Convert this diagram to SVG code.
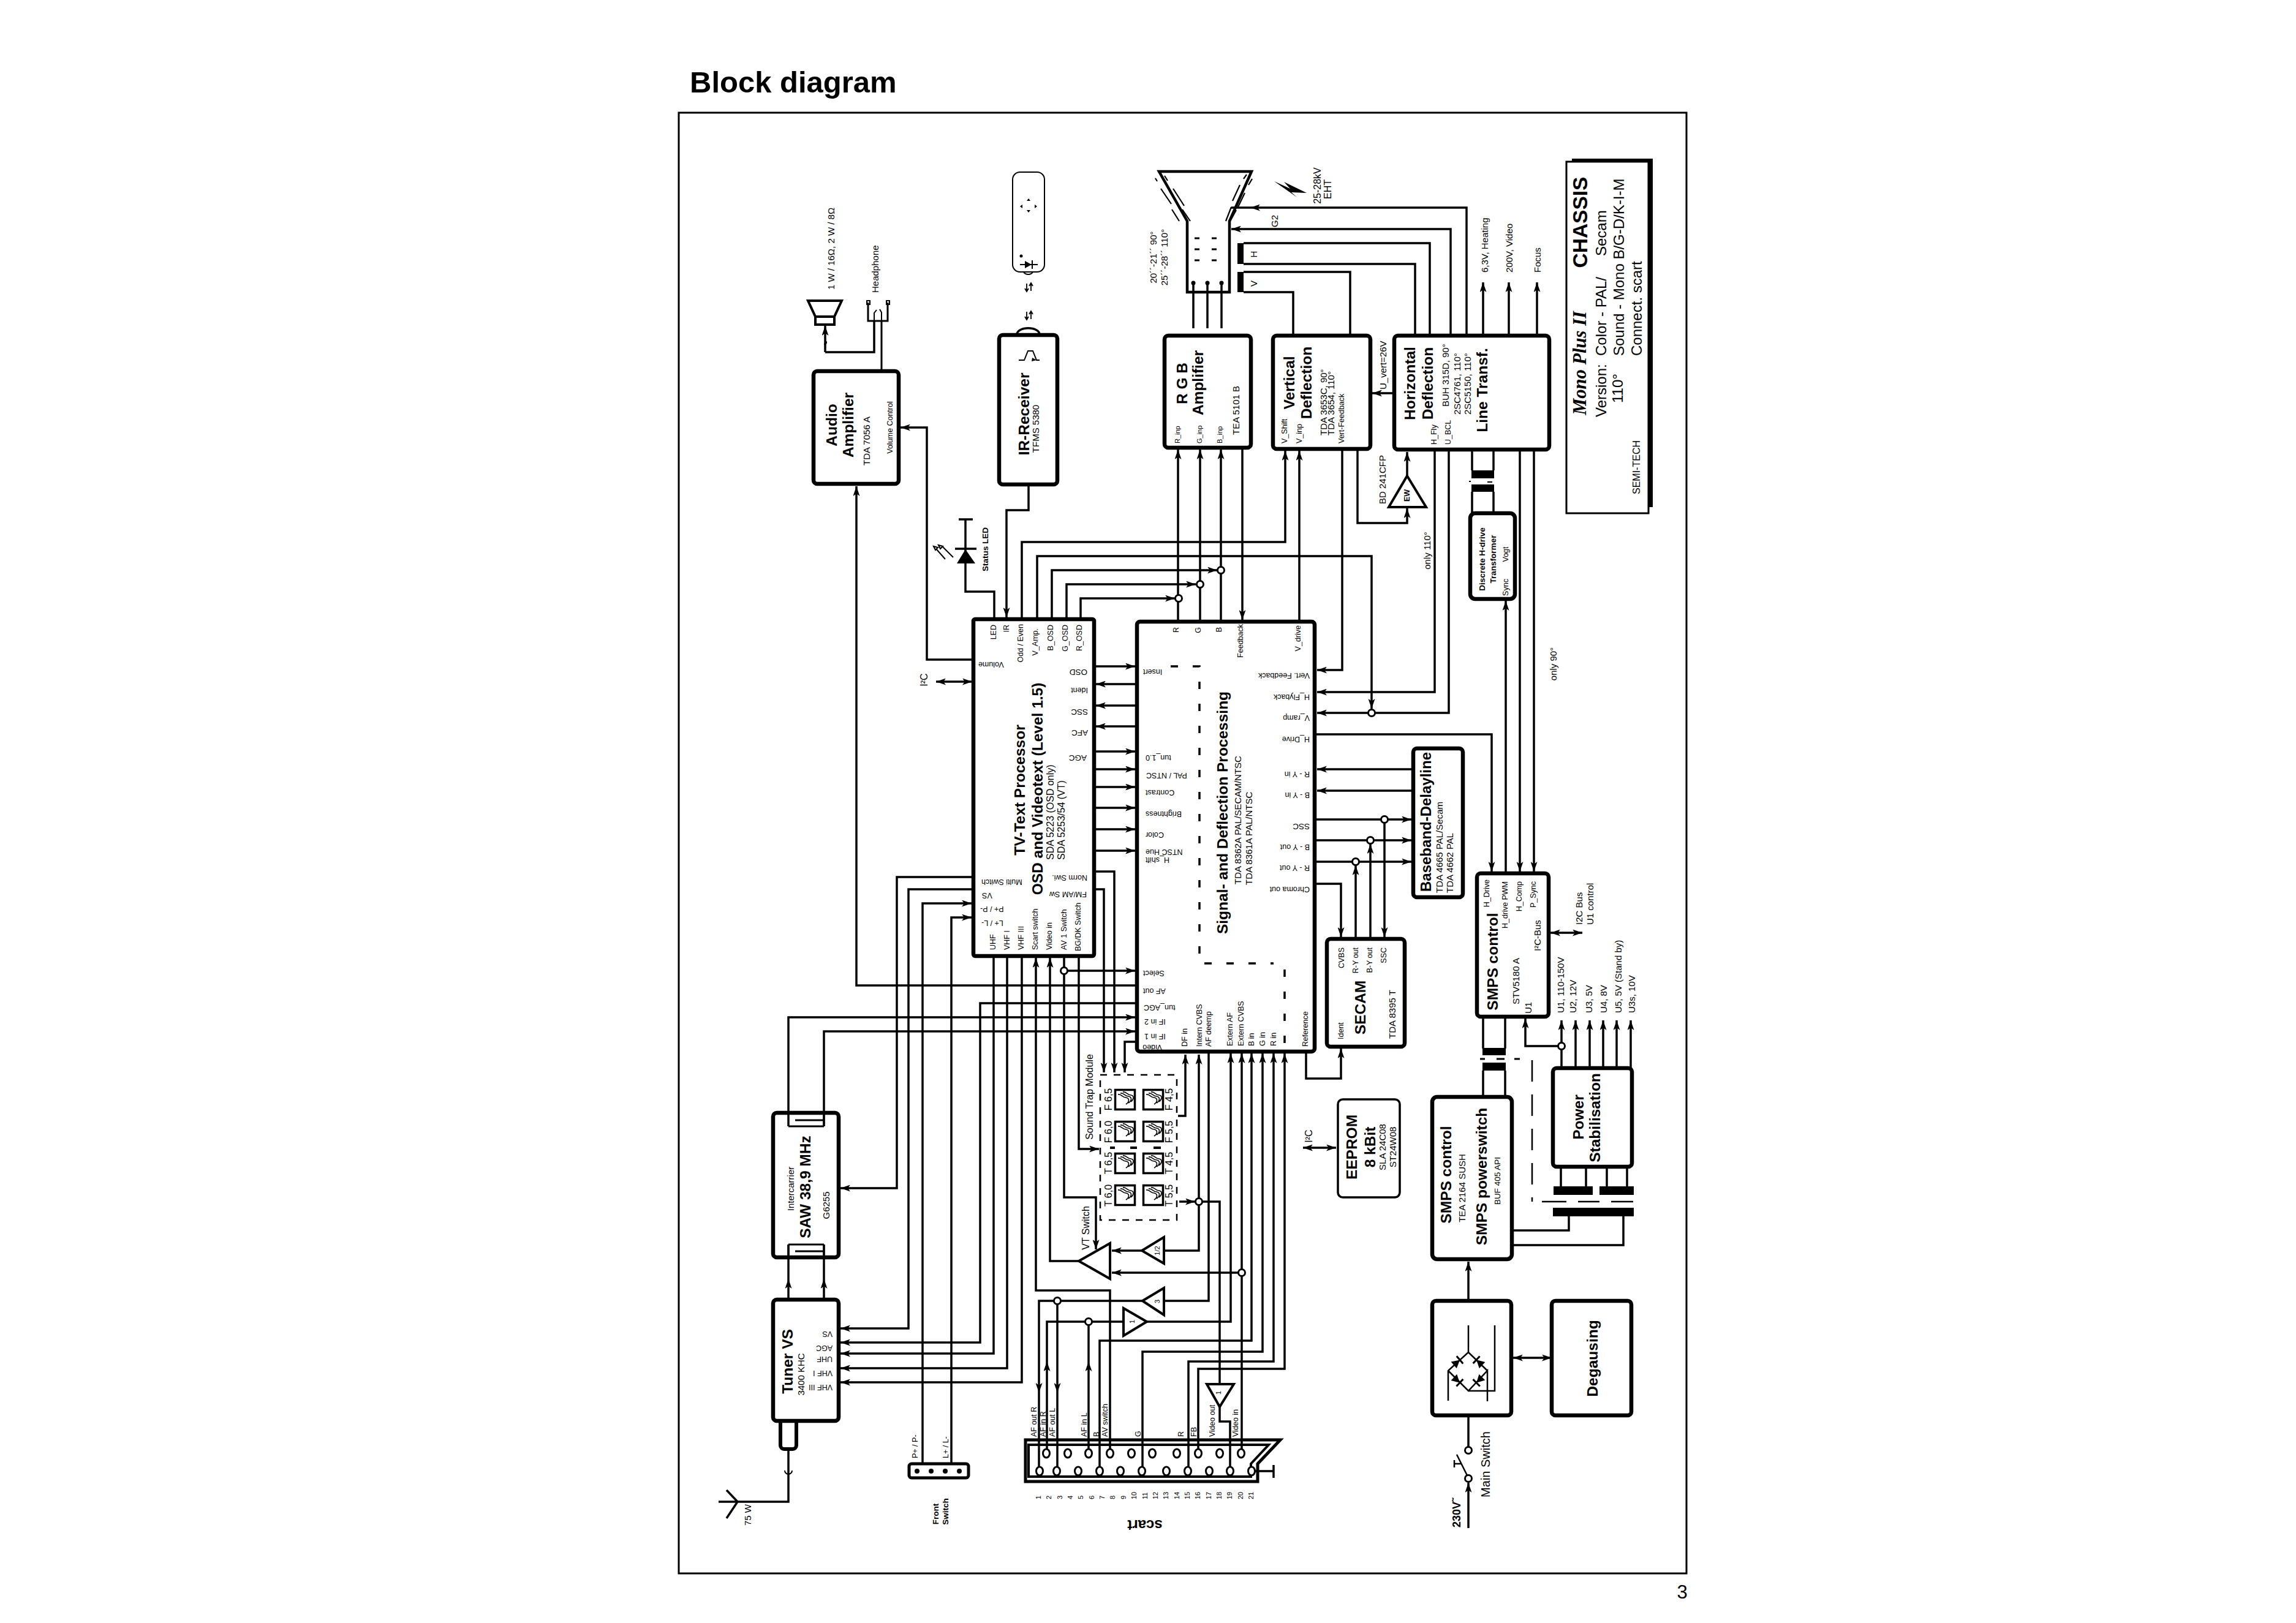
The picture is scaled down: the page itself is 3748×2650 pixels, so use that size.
<svg xmlns="http://www.w3.org/2000/svg" width="3748" height="2650" viewBox="0 0 3748 2650">
<style>
text{font-family:"Liberation Sans",Arial,sans-serif;fill:#000;dominant-baseline:central}
.b{font-weight:bold}.m{text-anchor:middle}.e{text-anchor:end}
.s11{font-size:11px}.s12{font-size:12.5px}.s13{font-size:13.5px}.s15{font-size:15px}.s16{font-size:16px}.s20{font-size:20px}.s24{font-size:24px}.s25{font-size:24.5px}
path,line,rect,circle,ellipse,polygon{stroke:#000;fill:none;stroke-linejoin:miter}
.w{stroke-width:3.5}
#wires path{stroke-width:3.5}
.ar{marker-end:url(#a)}
.bi{marker-start:url(#a);marker-end:url(#a)}
.box{stroke-width:6.5}
.k{fill:#000;stroke:none}
.j{fill:#fff;stroke-width:3}
.dash{stroke-width:3.5;stroke-dasharray:12 24}
</style>
<defs>
<marker id="a" markerUnits="userSpaceOnUse" markerWidth="16" markerHeight="11" refX="16" refY="5.5" orient="auto-start-reverse"><path d="M0,0 L16,5.5 L0,11 L4,5.5Z" style="fill:#000;stroke:none"/></marker>
<g id="flt"><rect x="1.5" y="1.5" width="32" height="32" stroke-width="3.5"/><path stroke-width="1.6" d="M6,9C12,8 13,14 19,14C25,15 25,21 19,25M10,7C16,6 17,12 23,12C29,13 29,19 23,23M14,5C20,4 21,10 27,10C33,11 32,17 27,21"/></g>
<g id="dio"><path class="k" d="M-9,-7 L4,0 L-9,7Z"/><path stroke-width="3" d="M4,-8V8"/></g>
</defs>

<rect width="3748" height="2650" style="fill:#fff;stroke:none"/>
<text class="b" x="1126" y="134" style="font-size:49px">Block diagram</text>
<text class="m" x="2746" y="2599" style="font-size:31px">3</text>
<rect x="1108" y="184" width="1645" height="2385" stroke-width="3"/>

<!-- signal routing -->
<g id="wires">
<path class="ar" d="M1856,1609H1398V794"/>
<path class="ar" d="M1589,1077H1513V698H1470"/>
<path class="bi" d="M1528,1113H1587"/>
<path d="M1576,920V966H1623V1011"/>
<path class="ar" d="M1679,791V833H1643V1008"/>
<path class="ar" d="M1668,1011V885H2098V736"/>
<path class="ar" d="M1693,1011V908H2239V1157"/>
<path class="ar" d="M1717,1011V931H1987"/>
<path class="ar" d="M1741,1011V954H1952"/>
<path class="ar" d="M1764,1011V977H1918"/>
<path class="ar" d="M1923,1015V734"/>
<path class="ar" d="M1959,1015V734"/>
<path class="ar" d="M1993,1015V734"/>
<path class="ar" d="M2028,731V1012"/>
<path class="ar" d="M2121,1015V736"/>
<path class="ar" d="M2191,733V1094H2150"/>
<path class="ar" d="M2342,734V1130H2150"/>
<path class="ar" d="M2365,734V1164H2150"/>
<path class="ar" d="M2216,733V854H2297V830"/>
<path class="ar" d="M2297,777V738"/>
<path class="ar" d="M2274,642H2240"/>
<path class="ar" d="M2394,548V339H2041"/>
<path d="M2041,339H2010"/>
<path class="ar" d="M2368,548V374H2010"/>
<path d="M2334,548V397H2030M2310,548V431H2030M2204,548V444H2030M2111,548V477H2030"/>
<path class="ar" d="M2421,548V461"/>
<path class="ar" d="M2463,548V461"/>
<path class="ar" d="M2509,548V461"/>
<path d="M1948,536V462M1971,536V462M1994,536V462"/>

<path class="ar" d="M1786,1088H1853"/>
<path class="ar" d="M1856,1117H1789"/>
<path class="ar" d="M1856,1152H1789"/>
<path class="ar" d="M1856,1186H1789"/>
<path class="ar" d="M1786,1227H1853"/>
<path class="ar" d="M1786,1256H1853"/>
<path class="ar" d="M1786,1285H1853"/>
<path class="ar" d="M1786,1319H1853"/>
<path class="ar" d="M1786,1354H1853"/>
<path class="ar" d="M1786,1389H1853"/>
<path class="ar" d="M1786,1423H1819V1751"/>
<path class="ar" d="M1786,1452H1802V1751"/>
<path class="ar" d="M1856,1701H1836V1751"/>
<path class="ar" d="M1737,1561V1955H1789V2040"/>
<path class="ar" d="M1737,1585H1853"/>
<path class="ar" d="M1761,1561V1876H1794"/>
<path class="ar" d="M1812,2373V2107H1691V1564"/>
<path class="ar" d="M1761,2059H1714V1564"/>
<path class="ar" d="M1622,1561V2210H1372"/>
<path class="ar" d="M1644,1561V2234H1372"/>
<path class="ar" d="M1668,1561V2257H1372"/>
<path class="ar" d="M1856,1638H1600V2192H1372"/>
<path class="ar" d="M1589,1432H1464V1940H1372"/>
<path class="ar" d="M1589,1452H1483V2169H1372"/>
<path class="ar" d="M1506,2390V1475H1586"/>
<path class="ar" d="M1553,2390V1498H1586"/>
<path class="ar" d="M1287,1839V1661H1853"/>
<path class="ar" d="M1345,1839V1684H1853"/>
<path class="ar" d="M1287,2122V2088"/>
<path d="M1287,2088V2032"/>
<path class="ar" d="M1345,2122V2088"/>
<path d="M1345,2088V2032"/>
<path d="M1204,2452H1287V2366"/>

<path class="ar" d="M2146,1199H2435V1423"/>
<path class="ar" d="M2306,1256H2150"/>
<path class="ar" d="M2306,1291H2150"/>
<path class="ar" d="M2146,1338H2304"/>
<path class="ar" d="M2146,1372H2304"/>
<path class="ar" d="M2146,1407H2304"/>
<path class="ar" d="M2146,1443H2189V1530"/>
<path class="ar" d="M2213,1533V1413"/>
<path class="ar" d="M2237,1533V1378"/>
<path class="ar" d="M2260,1338V1530"/>
<path class="ar" d="M2132,1717V1761H2189V1712"/>
<path class="ar" d="M1923,1822H1935V1722"/>
<path class="ar" d="M1925,1962H1951"/>
<path class="ar" d="M1957,1962V1722"/>
<path d="M1957,1962V2042H1900M1957,1962H1991V2260"/>
<path class="ar" d="M1864,2042H1815"/>
<path d="M1973,1717V2124H1900"/>
<path class="ar" d="M1865,2124H1696V2274"/>
<path d="M1696,2274V2402"/>
<path class="ar" d="M1726,2124V2274"/>
<path d="M1726,2274V2402"/>
<path class="ar" d="M1709,2373V2223"/>
<path d="M1709,2223V2158H1834"/>
<path class="ar" d="M1777,2373V2223"/>
<path d="M1777,2223V2158"/>
<path class="ar" d="M1872,2158H2009V1720"/>
<path class="ar" d="M2027,2373V1720"/>
<path class="ar" d="M2027,2078H1815"/>
<path class="ar" d="M1795,2402V2189H2043V1720"/>
<path class="ar" d="M1865,2402V2207H2061V1720"/>
<path class="ar" d="M1940,2402V2223H2079V1720"/>
<path class="ar" d="M1956,2373V2235H2097V1720"/>
<path d="M1991,2297V2321H2008V2402"/>

<path class="ar" d="M2397,2124V2060"/>
<path d="M2397,2311V2362"/>
<path class="ar" d="M2397,2495V2421"/>
<path class="bi" d="M2470,2217H2533"/>
<path d="M2468,2009H2561V1986M2468,2033H2650V1986"/>
<path d="M2548,1905V1940M2589,1905V1940M2623,1905V1940M2656,1905V1940"/>
<path class="ar" d="M2549,1744V1666"/>
<path class="ar" d="M2572,1744V1666"/>
<path class="ar" d="M2595,1744V1666"/>
<path class="ar" d="M2617,1744V1666"/>
<path class="ar" d="M2639,1744V1666"/>
<path class="ar" d="M2662,1744V1666"/>
<path class="ar" d="M2549,1708H2490V1663"/>
<path class="ar" d="M2481,734V1423"/>
<path class="ar" d="M2504,734V1423"/>
<path class="ar" d="M2458,1426V981"/>
<path class="bi" d="M2531,1523H2583"/>
<path class="bi" d="M2127,1874H2181"/>
<path d="M2421,1660V1712M2457,1660V1712M2421,1748V1791M2457,1748V1791"/>
<path d="M2403,734V768M2438,734V768M2403,803V838M2438,803V838"/>

<circle class="j" cx="1924" cy="977" r="5.5"/>
<circle class="j" cx="1959" cy="954" r="5.5"/>
<circle class="j" cx="1993" cy="931" r="5.5"/>
<circle class="j" cx="2239" cy="1164" r="5.5"/>
<circle class="j" cx="2213" cy="1407" r="5.5"/>
<circle class="j" cx="2237" cy="1372" r="5.5"/>
<circle class="j" cx="2260" cy="1338" r="5.5"/>
<circle class="j" cx="1737" cy="1585" r="5.5"/>
<circle class="j" cx="1957" cy="1962" r="5.5"/>
<circle class="j" cx="2027" cy="2078" r="5.5"/>
<circle class="j" cx="1726" cy="2124" r="5.5"/>
<circle class="j" cx="1777" cy="2158" r="5.5"/>
<circle class="j" cx="2549" cy="1708" r="5.5"/>
</g>

<g id="speaker" stroke-width="4">
<path d="M1319,491H1374L1362,517H1331Z"/><rect x="1331" y="517" width="31" height="13"/>
<path stroke-width="3.5" class="ar" d="M1347,575V532"/>
<path stroke-width="3.5" d="M1347,575H1427V524M1347,563a3,3 0 0 1 3,-4"/>
<text class="s15" transform="translate(1356,473) rotate(-90)">1 W / 16Ω, 2 W / 8Ω</text>
</g>
<g id="headphone">
<path stroke-width="3" d="M1417,494V524H1449V494"/>
<rect x="1415" y="491" width="5" height="6" stroke-width="2"/><rect x="1447" y="491" width="5" height="6" stroke-width="2"/>
<path stroke-width="2" d="M1427,524V511L1431,506M1439,524V510L1436,505"/>
<path stroke-width="3" d="M1439,524V606"/>
<text class="s15" transform="translate(1428,478) rotate(-90)">Headphone</text>
</g>
<g id="audio-amp">
<rect class="box" x="1328" y="606" width="139" height="184" rx="6"/>
<text class="b s25 m" transform="translate(1357,694) rotate(-90)">Audio</text>
<text class="b s25 m" transform="translate(1384,694) rotate(-90)">Amplifier</text>
<text class="s15 m" transform="translate(1414,720) rotate(-90)">TDA 7056 A</text>
<text class="s12 m" transform="translate(1453,698) rotate(-90)">Volume Control</text>
</g>

<g id="remote">
<rect x="1653" y="281" width="52" height="163" rx="12" stroke-width="2"/>
<path stroke-width="2" d="M1671,444a8,6 0 0 0 15,0"/>
<path class="k" d="M1679,324l3,4h-6zM1679,347l3,-4h-6zM1665,337l4,-3v6zM1693,337l-4,-3v6z"/>
<circle class="k" cx="1667" cy="418" r="2.5"/>
<path stroke-width="2" d="M1665,432H1694M1685,425V439"/><path class="k" d="M1673,426L1684,432L1673,438Z"/>
<path stroke-width="1.8" d="M1676,463V475M1683,463V475M1673,471l3,5l3,-5M1680,467l3,-5l3,5M1676,509V521M1683,509V521M1673,517l3,5l3,-5M1680,513l3,-5l3,5"/>
</g>
<g id="ir-receiver">
<rect class="box" x="1631" y="547" width="95" height="244" rx="6"/>
<path stroke-width="3.5" d="M1660,546a18,10 0 0 1 37,0"/>
<path stroke-width="2" d="M1663,588H1672L1678,573H1686L1692,588H1697"/>
<path class="k" d="M1692,588l-7,-4l-1,6z"/>
<text class="b s25 m" transform="translate(1671,676) rotate(-90)">IR-Receiver</text>
<text class="s15 m" transform="translate(1690,700) rotate(-90)">TFMS 5380</text>
</g>
<g id="status-led">
<path stroke-width="3.5" d="M1565,848H1588M1576,848V920M1559,896H1594"/>
<path class="k" d="M1576,897L1592,920H1562Z"/>
<path stroke-width="2" d="M1556,910L1537,891M1543,913L1528,896M1532,890l7,2l-4,4zM1524,892l7,2l-4,4z"/>
<text class="b s13 m" transform="translate(1608,897) rotate(-90)">Status LED</text>
</g>

<g id="crt">
<path stroke-width="4.5" d="M1938,361L1892,280H2043L2007,361V477H1938Z"/>
<path stroke-width="2.2" d="M1886,291L1889,296M1895,308L1912,333M1913,342L1925,361M1901,287L1906,295M1915,308L1933,336M1930,342L1943,361M2035,285L2030,292M2024,302L2012,328M2010,338L2001,361M2044,292L2038,302M2032,315L2021,338M2018,343L2007,363"/>
<path stroke-width="3" d="M1950,389H1958M1950,407H1958M1950,425H1958M1978,389H1986M1978,407H1986M1978,425H1986"/>
<circle class="k" cx="1948" cy="462" r="3.5"/><circle class="k" cx="1971" cy="462" r="3.5"/><circle class="k" cx="1994" cy="462" r="3.5"/>
<rect class="k" x="2020" y="397" width="10" height="34"/><rect class="k" x="2020" y="444" width="10" height="33"/>
<text class="s15 m" transform="translate(2046,415) rotate(-90)">H</text>
<text class="s15 m" transform="translate(2046,463) rotate(-90)">V</text>
<text class="s15 m" transform="translate(1882,420) rotate(-90)">20´´-21´´ 90°</text>
<text class="s15 m" transform="translate(1900,420) rotate(-90)">25´´-28´´ 110°</text>
<path class="k" d="M2080,296L2106,308L2096,297L2133,315L2108,314L2117,322Z"/>
<text class="s16 m" transform="translate(2150,303) rotate(-90)">25-28kV</text>
<text class="s16 m" transform="translate(2167,309) rotate(-90)">EHT</text>
<text class="s15 m" transform="translate(2080,361) rotate(-90)">G2</text>
</g>
<g id="rgb-amp">
<rect class="box" x="1901" y="548" width="141" height="183" rx="6"/>
<text class="b s25 m" transform="translate(1929,626) rotate(-90)">R G B</text>
<text class="b s25 m" transform="translate(1955,625) rotate(-90)">Amplifier</text>
<text class="s15 m" transform="translate(2017,670) rotate(-90)">TEA 5101 B</text>
<text class="s11" transform="translate(1922,724) rotate(-90)">R_inp</text>
<text class="s11" transform="translate(1958,724) rotate(-90)">G_inp</text>
<text class="s11" transform="translate(1991,724) rotate(-90)">B_inp</text>
</g>
<g id="vertical">
<rect class="box" x="2078" y="548" width="159" height="185" rx="6"/>
<text class="b s25 m" transform="translate(2104,625) rotate(-90)">Vertical</text>
<text class="b s25 m" transform="translate(2132,625) rotate(-90)">Deflection</text>
<text class="s15" transform="translate(2160,711) rotate(-90)">TDA 3653C, 90°</text>
<text class="s15" transform="translate(2172,711) rotate(-90)">TDA 3654, 110°</text>
<text class="s12" transform="translate(2190,724) rotate(-90)">Vert-Feedback</text>
<text class="s12" transform="translate(2097,724) rotate(-90)">V_Shift</text>
<text class="s12" transform="translate(2121,724) rotate(-90)">V_inp</text>
</g>
<g id="horizontal">
<rect class="box" x="2276" y="548" width="253" height="186" rx="6"/>
<text class="b s25 m" transform="translate(2301,626) rotate(-90)">Horizontal</text>
<text class="b s25 m" transform="translate(2330,626) rotate(-90)">Deflection</text>
<text class="s15" transform="translate(2359,664) rotate(-90)">BUH 315D, 90°</text>
<text class="s15" transform="translate(2378,677) rotate(-90)">2SC4761, 110°</text>
<text class="s15" transform="translate(2395,677) rotate(-90)">2SC5150, 110°</text>
<text class="b s25 m" transform="translate(2419,637) rotate(-90)">Line Transf.</text>
<text class="s12" transform="translate(2341,726) rotate(-90)">H_Fly</text>
<text class="s12" transform="translate(2364,726) rotate(-90)">U_BCL</text>
<text class="s15" transform="translate(2257,636) rotate(-90)">U_vert=26V</text>
<text class="s15" transform="translate(2423,445) rotate(-90)">6,3V, Heating</text>
<text class="s15" transform="translate(2463,445) rotate(-90)">200V, Video</text>
</g>
<g id="outputs">
<text class="s15" transform="translate(2509,445) rotate(-90)">Focus</text>
</g>
<g id="ew">
<path stroke-width="4" d="M2297,777L2328,828H2267Z"/>
<text class="b s12 m" transform="translate(2297,809) rotate(-90)">EW</text>
<text class="s15 m" transform="translate(2256,783) rotate(-90)">BD 241CFP</text>
<text class="s15 m" transform="translate(2329,899) rotate(-90)">only 110°</text>
</g>
<g id="discrete">
<rect class="k" x="2402" y="768" width="37" height="13"/><rect class="k" x="2402" y="791" width="37" height="12"/>
<path stroke-width="2" d="M2398,786H2401M2428,787H2436"/>
<rect class="box" x="2400" y="838" width="73" height="140" rx="8"/>
<text class="b s13 m" transform="translate(2419,913) rotate(-90)">Discrete H-drive</text>
<text class="b s13 m" transform="translate(2437,913) rotate(-90)">Transformer</text>
<text class="s12 m" transform="translate(2458,959) rotate(-90)">Sync</text>
<text class="s12 m" transform="translate(2458,905) rotate(-90)">Vogt</text>
<text class="s15 m" transform="translate(2535,1084) rotate(-90)">only 90°</text>
</g>
<g id="chassis">
<rect class="k" x="2566" y="259" width="132" height="6"/><rect class="k" x="2691" y="259" width="7" height="569"/>
<rect x="2557" y="264" width="134" height="574" stroke-width="3"/>
<text class="b m" style="font-size:33.5px" transform="translate(2579,363) rotate(-90)">CHASSIS</text>
<text class="b m" style="font-family:'Liberation Serif',serif;font-style:italic;font-size:30.5px" transform="translate(2579,593) rotate(-90)">Mono Plus II</text>
<text class="s24" transform="translate(2613,681) rotate(-90)">Version:</text>
<text class="s24" transform="translate(2613,581) rotate(-90)">Color - PAL/</text>
<text class="s24" transform="translate(2613,418) rotate(-90)">Secam</text>
<text class="s24" transform="translate(2640,658) rotate(-90)">110°</text>
<text class="s24" transform="translate(2642,581) rotate(-90)">Sound - Mono B/G-D/K-I-M</text>
<text class="s24" transform="translate(2671,581) rotate(-90)">Connect. scart</text>
<text class="s16" transform="translate(2671,807) rotate(-90)">SEMI-TECH</text>
</g>

<g id="tv-text">
<rect class="box" x="1589" y="1011" width="197" height="550" rx="3"/>
<text class="b s25 m" transform="translate(1664,1290) rotate(-90)">TV-Text Processor</text>
<text class="b s25 m" transform="translate(1693,1288) rotate(-90)">OSD and Videotext (Level 1.5)</text>
<text class="s16" transform="translate(1714,1404) rotate(-90)">SDA 5223 (OSD only)</text>
<text class="s16" transform="translate(1732,1404) rotate(-90)">SDA 5253/54 (VT)</text>
<text class="s12 e" transform="translate(1622,1020) rotate(-90)">LED</text>
<text class="s12 e" transform="translate(1643,1020) rotate(-90)">IR</text>
<text class="s12 e" transform="translate(1666,1019) rotate(-90)">Odd / Even</text>
<text class="s12 e" transform="translate(1690,1026) rotate(-90)">V_Amp.</text>
<text class="s12 e" transform="translate(1715,1020) rotate(-90)">B_OSD</text>
<text class="s12 e" transform="translate(1739,1020) rotate(-90)">G_OSD</text>
<text class="s12 e" transform="translate(1762,1020) rotate(-90)">R_OSD</text>
<text class="s12 e" transform="translate(1597,1085) rotate(180)">Volume</text>
<text class="s13" transform="translate(1775,1097) rotate(180)">OSD</text>
<text class="s12" transform="translate(1776,1127) rotate(180)">Ident</text>
<text class="s13" transform="translate(1776,1162) rotate(180)">SSC</text>
<text class="s13" transform="translate(1776,1196) rotate(180)">AFC</text>
<text class="s13" transform="translate(1774,1237) rotate(180)">AGC</text>
<text class="s12" transform="translate(1775,1433) rotate(180)">Norm Swi.</text>
<text class="s12" transform="translate(1774,1460) rotate(180)">FM/AM Sw</text>
<text class="s12 e" transform="translate(1602,1440) rotate(180)">Multi Switch</text>
<text class="s12 e" transform="translate(1603,1462) rotate(180)">VS</text>
<text class="s12 e" transform="translate(1600,1484) rotate(180)">P+ / P-</text>
<text class="s12 e" transform="translate(1602,1507) rotate(180)">L+ / L-</text>
<text class="s12" transform="translate(1621,1551) rotate(-90)">UHF</text>
<text class="s12" transform="translate(1644,1551) rotate(-90)">VHF I</text>
<text class="s12" transform="translate(1667,1551) rotate(-90)">VHF III</text>
<text class="s12" transform="translate(1690,1551) rotate(-90)">Scart switch</text>
<text class="s12" transform="translate(1713,1551) rotate(-90)">Video in</text>
<text class="s12" transform="translate(1737,1551) rotate(-90)">AV 1 Switch</text>
<text class="s12" transform="translate(1760,1553) rotate(-90)">BG/DK Switch</text>
<text class="s16 m" transform="translate(1508,1110) rotate(-90)">I²C</text>
</g>

<g id="signal">
<text class="s12" transform="translate(1897,1710) rotate(180)">Video</text>
<rect class="box" x="1856" y="1015" width="290" height="702" rx="5"/>
<path class="dash" d="M1911,1088H1958V1573H2079"/>
<path class="dash" d="M2097,1583V1705"/>
<text class="b s25 m" transform="translate(1995,1327) rotate(-90)">Signal- and Deflection Processing</text>
<text class="s15 m" transform="translate(2020,1339) rotate(-90)">TDA 8362A PAL/SECAM/NTSC</text>
<text class="s15" transform="translate(2038,1445) rotate(-90)">TDA 8361A PAL/NTSC</text>
<text class="s12 e" transform="translate(1920,1024) rotate(-90)">R</text>
<text class="s12 e" transform="translate(1956,1024) rotate(-90)">G</text>
<text class="s12 e" transform="translate(1990,1024) rotate(-90)">B</text>
<text class="s12 e" transform="translate(2025,1019) rotate(-90)">Feedback</text>
<text class="s12 e" transform="translate(2119,1021) rotate(-90)">V_drive</text>
<text class="s12" transform="translate(2138,1103) rotate(180)">Vert. Feedback</text>
<text class="s12" transform="translate(2138,1138) rotate(180)">H_Flyback</text>
<text class="s12" transform="translate(2138,1172) rotate(180)">V_ramp</text>
<text class="s12" transform="translate(2138,1207) rotate(180)">H_Drive</text>
<text class="s12" transform="translate(2138,1264) rotate(180)">R - Y in</text>
<text class="s12" transform="translate(2138,1298) rotate(180)">B - Y in</text>
<text class="s13" transform="translate(2138,1349) rotate(180)">SSC</text>
<text class="s12" transform="translate(2138,1383) rotate(180)">B - Y out</text>
<text class="s12" transform="translate(2138,1417) rotate(180)">R - Y out</text>
<text class="s12" transform="translate(2138,1452) rotate(180)">Chroma out</text>
<text class="s12 e" transform="translate(1866,1097) rotate(180)">Insert</text>
<text class="s12 e" transform="translate(1870,1237) rotate(180)">tun_1.0</text>
<text class="s12 e" transform="translate(1871,1266) rotate(180)">PAL / NTSC</text>
<text class="s12 e" transform="translate(1870,1294) rotate(180)">Contrast</text>
<text class="s12 e" transform="translate(1870,1329) rotate(180)">Brightness</text>
<text class="s12 e" transform="translate(1870,1363) rotate(180)">Color</text>
<text class="s12 e" transform="translate(1870,1391) rotate(180)">NTSC Hue</text>
<text class="s12 e" transform="translate(1870,1404) rotate(180)">H_shift</text>
<text class="s12 e" transform="translate(1866,1589) rotate(180)">Select</text>
<text class="s12 e" transform="translate(1866,1618) rotate(180)">AF out</text>
<text class="s12 e" transform="translate(1867,1645) rotate(180)">tun_AGC</text>
<text class="s12 e" transform="translate(1868,1668) rotate(180)">IF in 2</text>
<text class="s12 e" transform="translate(1868,1692) rotate(180)">IF in 1</text>
<text class="s12" transform="translate(1934,1709) rotate(-90)">DF in</text>
<text class="s12" transform="translate(1958,1709) rotate(-90)">Intern CVBS</text>
<text class="s12" transform="translate(1973,1709) rotate(-90)">AF deemp</text>
<text class="s12" transform="translate(2008,1708) rotate(-90)">Extern AF</text>
<text class="s12" transform="translate(2026,1708) rotate(-90)">Extern CVBS</text>
<text class="s12" transform="translate(2043,1708) rotate(-90)">B in</text>
<text class="s12" transform="translate(2061,1708) rotate(-90)">G in</text>
<text class="s12" transform="translate(2079,1708) rotate(-90)">R in</text>
<text class="s12" transform="translate(2131,1709) rotate(-90)">Reference</text>
</g>

<g id="baseband">
<rect class="box" x="2307" y="1222" width="81" height="243" rx="6"/>
<text class="b s24 m" transform="translate(2327,1342) rotate(-90)">Baseband-Delayline</text>
<text class="s15" transform="translate(2349,1458) rotate(-90)">TDA 4665 PAL/Secam</text>
<text class="s15" transform="translate(2366,1458) rotate(-90)">TDA 4662 PAL</text>
</g>
<g id="secam">
<rect class="box" x="2166" y="1533" width="127" height="176" rx="6"/>
<text class="s12 e" transform="translate(2190,1547) rotate(-90)">CVBS</text>
<text class="s12 e" transform="translate(2213,1547) rotate(-90)">R-Y out</text>
<text class="s12 e" transform="translate(2236,1547) rotate(-90)">B-Y out</text>
<text class="s12 e" transform="translate(2259,1547) rotate(-90)">SSC</text>
<text class="b s25 m" transform="translate(2220,1645) rotate(-90)">SECAM</text>
<text class="s15 m" transform="translate(2272,1656) rotate(-90)">TDA 8395 T</text>
<text class="s12" transform="translate(2189,1697) rotate(-90)">Ident</text>
</g>
<g id="smps-control">
<rect class="box" x="2411" y="1426" width="117" height="234" rx="6"/>
<text class="b s25 m" transform="translate(2436,1570) rotate(-90)">SMPS control</text>
<text class="s15" transform="translate(2474,1640) rotate(-90)">STV5180 A</text>
<text class="s15" transform="translate(2494,1655) rotate(-90)">U1</text>
<text class="s12 e" transform="translate(2427,1436) rotate(-90)">H_Drive</text>
<text class="s12 e" transform="translate(2457,1439) rotate(-90)">H_drive PWM</text>
<text class="s12 e" transform="translate(2480,1439) rotate(-90)">H_Comp</text>
<text class="s12 e" transform="translate(2503,1439) rotate(-90)">P_Sync</text>
<text class="s15" transform="translate(2509,1553) rotate(-90)">I²C-Bus</text>
<text class="s15" transform="translate(2577,1510) rotate(-90)">I2C Bus</text>
<text class="s15" transform="translate(2595,1510) rotate(-90)">U1 control</text>
<text class="s15" transform="translate(2547,1654) rotate(-90)">U1, 110-150V</text>
<text class="s15" transform="translate(2567,1654) rotate(-90)">U2, 12V</text>
<text class="s15" transform="translate(2593,1654) rotate(-90)">U3, 5V</text>
<text class="s15" transform="translate(2617,1654) rotate(-90)">U4, 8V</text>
<text class="s15" transform="translate(2641,1654) rotate(-90)">U5, 5V (Stand by)</text>
<text class="s15" transform="translate(2663,1654) rotate(-90)">U3s, 10V</text>
</g>

<g id="isolation">
<rect class="k" x="2420" y="1711" width="38" height="12"/><rect class="k" x="2420" y="1735" width="38" height="13"/>
<path stroke-width="3" d="M2416,1729H2424M2443,1729H2456M2472,1729H2481"/>
<path stroke-width="2.5" stroke-dasharray="35 21" d="M2501,1731V1962"/>
<path stroke-width="2.5" d="M2517,1962H2557M2576,1962H2611M2630,1962H2666"/>
<rect class="k" x="2536" y="1937" width="64" height="14"/><rect class="k" x="2611" y="1937" width="56" height="14"/>
<rect class="k" x="2535" y="1972" width="132" height="14"/>
</g>
<g id="power">
<rect class="box" x="2535" y="1744" width="129" height="161" rx="6"/>
<text class="b s25 m" transform="translate(2576,1824) rotate(-90)">Power</text>
<text class="b s25 m" transform="translate(2603,1825) rotate(-90)">Stabilisation</text>
</g>
<g id="smps-switch">
<rect class="box" x="2338" y="1791" width="130" height="265" rx="8"/>
<text class="b s25 m" transform="translate(2360,1918) rotate(-90)">SMPS control</text>
<text class="s15 m" transform="translate(2386,1940) rotate(-90)">TEA 2164 SUSH</text>
<text class="b s25 m" transform="translate(2418,1921) rotate(-90)">SMPS powerswitch</text>
<text class="s13 m" transform="translate(2444,1928) rotate(-90)">BUF 405 API</text>
</g>
<g id="eeprom">
<rect x="2184" y="1795" width="101" height="160" rx="8" stroke-width="3.5"/>
<text class="b s25 m" transform="translate(2206,1873) rotate(-90)">EEPROM</text>
<text class="b s25 m" transform="translate(2236,1873) rotate(-90)">8 kBit</text>
<text class="s15 m" transform="translate(2256,1873) rotate(-90)">SLA 24C08</text>
<text class="s15 m" transform="translate(2273,1873) rotate(-90)">ST24W08</text>
<text class="s16 m" transform="translate(2136,1855) rotate(-90)">I²C</text>
</g>
<g id="bridge">
<rect class="box" x="2338" y="2124" width="129" height="187" rx="6"/>
<path stroke-width="2.5" d="M2397,2164V2208L2364,2238V2287M2364,2238L2397,2271L2428,2238V2288M2397,2208L2428,2238M2397,2271H2440V2164"/>
<use href="#dio" transform="translate(2380,2223) rotate(-41)"/>
<use href="#dio" transform="translate(2413,2223) rotate(-137)"/>
<use href="#dio" transform="translate(2380,2255) rotate(43)"/>
<use href="#dio" transform="translate(2413,2255) rotate(135)"/>
</g>
<g id="degausing">
<rect class="box" x="2533" y="2124" width="130" height="187" rx="6"/>
<text class="b s25 m" transform="translate(2599,2218) rotate(-90)">Degausing</text>
</g>
<g id="main-switch">
<circle class="j" cx="2397" cy="2368" r="5.5"/>
<circle class="j" cx="2397" cy="2414" r="5.5"/>
<path stroke-width="2.5" d="M2395,2409L2378,2375M2374,2384V2396M2374,2390H2385"/>
<text class="b m" style="font-size:18px" transform="translate(2378,2470) rotate(-90)">230V˜</text>
<text class="s20 m" transform="translate(2425,2391) rotate(-90)">Main Switch</text>
</g>

<g id="tuner">
<rect class="box" x="1262" y="2122" width="107" height="198" rx="6"/>
<path stroke-width="6" d="M1274,2320V2360a6,6 0 0 0 6,6H1294a6,6 0 0 0 6,-6V2320"/>
<path stroke-width="2" d="M1281,2401a6,6 0 0 0 12,0"/>
<text class="b s25 m" transform="translate(1285,2223) rotate(-90)">Tuner VS</text>
<text class="s15 m" transform="translate(1307,2244) rotate(-90)">3400 KHC</text>
<text class="s12" transform="translate(1359,2178) rotate(180)">VS</text>
<text class="s12" transform="translate(1359,2201) rotate(180)">AGC</text>
<text class="s12" transform="translate(1359,2219) rotate(180)">UHF</text>
<text class="s12" transform="translate(1359,2242) rotate(180)">VHF I</text>
<text class="s12" transform="translate(1359,2265) rotate(180)">VHF III</text>
</g>
<g id="antenna">
<path stroke-width="3.5" d="M1204,2452L1186,2433M1204,2452H1173M1204,2452L1186,2479"/>
<text class="s15" transform="translate(1220,2491) rotate(-90)">75 W</text>
</g>
<g id="saw">
<rect class="box" x="1262" y="1817" width="107" height="236" rx="6"/>
<path stroke-width="3" d="M1287,1839H1345M1298,1829H1345M1345,1817V1839M1287,2032H1345M1298,2043H1345M1345,2032V2053M1287,2032V2053"/>
<text class="s15 m" transform="translate(1290,1941) rotate(-90)">Intercarrier</text>
<text class="b s25 m" transform="translate(1314,1938) rotate(-90)">SAW 38,9 MHz</text>
<text class="s15 m" transform="translate(1348,1968) rotate(-90)">G6255</text>
</g>
<g id="front-switch">
<rect x="1484" y="2390" width="97" height="23" rx="4" stroke-width="5"/>
<circle class="k" cx="1497" cy="2402" r="4"/><circle class="k" cx="1520" cy="2402" r="4"/><circle class="k" cx="1543" cy="2402" r="4"/><circle class="k" cx="1566" cy="2402" r="4"/>
<text class="s12" transform="translate(1494,2381) rotate(-90)">P+ / P-</text>
<text class="s12" transform="translate(1544,2381) rotate(-90)">L+ / L-</text>
<text class="b s13 m" transform="translate(1527,2472) rotate(-90)">Front</text>
<text class="b s13 m" transform="translate(1543,2468) rotate(-90)">Switch</text>
</g>

<g id="trap">
<rect x="1796" y="1755" width="125" height="237" stroke-width="2.5" stroke-dasharray="11 11"/>
<use href="#flt" x="1819" y="1778"/><use href="#flt" x="1819" y="1830"/><use href="#flt" x="1819" y="1882"/><use href="#flt" x="1819" y="1934"/>
<use href="#flt" x="1865" y="1778"/><use href="#flt" x="1865" y="1830"/><use href="#flt" x="1865" y="1882"/><use href="#flt" x="1865" y="1934"/>
<path stroke-width="4" d="M1812,1874H1820M1845,1874H1856M1883,1874H1895"/>
<text class="s16 m" transform="translate(1809,1795) rotate(-90)">F 6,5</text>
<text class="s16 m" transform="translate(1809,1848) rotate(-90)">F 6,0</text>
<text class="s16 m" transform="translate(1809,1899) rotate(-90)">T 6,5</text>
<text class="s16 m" transform="translate(1809,1952) rotate(-90)">T 6,0</text>
<text class="s16 m" transform="translate(1908,1795) rotate(-90)">F 4,5</text>
<text class="s16 m" transform="translate(1908,1848) rotate(-90)">F 5,5</text>
<text class="s16 m" transform="translate(1908,1899) rotate(-90)">T 4,5</text>
<text class="s16 m" transform="translate(1908,1952) rotate(-90)">T 5,5</text>
<text class="s16 m" transform="translate(1778,1791) rotate(-90)">Sound Trap Module</text>
</g>
<g id="vt-switch">
<path stroke-width="4" d="M1761,2059L1812,2030V2088Z"/>
<text class="s16 m" transform="translate(1772,2005) rotate(-90)">VT Switch</text>
</g>
<g id="amp-half">
<path stroke-width="4" d="M1864,2042L1900,2020V2063Z"/>
<text class="s11 m" transform="translate(1889,2042) rotate(-90)">1/2</text>
</g>
<g id="amp-3">
<path stroke-width="4" d="M1865,2124L1900,2103V2147Z"/>
<text class="s11 m" transform="translate(1889,2125) rotate(-90)">3</text>
</g>
<g id="amp-1">
<path stroke-width="4" d="M1872,2158L1834,2136V2181Z"/>
<text class="s11 m" transform="translate(1848,2158) rotate(-90)">1</text>
</g>
<g id="amp-video">
<path stroke-width="4" d="M1970,2260H2014L1991,2297Z"/>
<text class="s11 m" transform="translate(1989,2274) rotate(-90)">1</text>
</g>

<g id="scart">
<path stroke-width="5" d="M1674,2351H2090L2053,2390V2419H1674Z"/>
<path stroke-width="4" d="M1679,2359H2071L2042,2390V2411H1679Z"/>
<path stroke-width="3.5" d="M2043,2402H2079M2079,2392V2413"/>
<g class="pins">
<ellipse class="j" cx="1708" cy="2373" rx="5.5" ry="7"/><ellipse class="j" cx="1743" cy="2373" rx="5.5" ry="7"/><ellipse class="j" cx="1777" cy="2373" rx="5.5" ry="7"/><ellipse class="j" cx="1812" cy="2373" rx="5.5" ry="7"/><ellipse class="j" cx="1847" cy="2373" rx="5.5" ry="7"/><ellipse class="j" cx="1881" cy="2373" rx="5.5" ry="7"/><ellipse class="j" cx="1921" cy="2373" rx="5.5" ry="7"/><ellipse class="j" cx="1956" cy="2373" rx="5.5" ry="7"/><ellipse class="j" cx="1991" cy="2373" rx="5.5" ry="7"/><ellipse class="j" cx="2026" cy="2373" rx="5.5" ry="7"/>
<ellipse class="j" cx="1697" cy="2402" rx="5.5" ry="7"/><ellipse class="j" cx="1725" cy="2402" rx="5.5" ry="7"/><ellipse class="j" cx="1760" cy="2402" rx="5.5" ry="7"/><ellipse class="j" cx="1795" cy="2402" rx="5.5" ry="7"/><ellipse class="j" cx="1829" cy="2402" rx="5.5" ry="7"/><ellipse class="j" cx="1864" cy="2402" rx="5.5" ry="7"/><ellipse class="j" cx="1904" cy="2402" rx="5.5" ry="7"/><ellipse class="j" cx="1939" cy="2402" rx="5.5" ry="7"/><ellipse class="j" cx="1974" cy="2402" rx="5.5" ry="7"/><ellipse class="j" cx="2008" cy="2402" rx="5.5" ry="7"/><ellipse class="j" cx="2043" cy="2402" rx="5.5" ry="7"/>
</g>
<g class="labels">
<text class="s12" transform="translate(1688,2346) rotate(-90)">AF out R</text>
<text class="s12" transform="translate(1703,2346) rotate(-90)">AF in R</text>
<text class="s12" transform="translate(1718,2346) rotate(-90)">AF out L</text>
<text class="s12" transform="translate(1770,2346) rotate(-90)">AF in L</text>
<text class="s12" transform="translate(1790,2346) rotate(-90)">B</text>
<text class="s12" transform="translate(1804,2346) rotate(-90)">AV switch</text>
<text class="s12" transform="translate(1858,2346) rotate(-90)">G</text>
<text class="s12" transform="translate(1928,2346) rotate(-90)">R</text>
<text class="s12" transform="translate(1949,2346) rotate(-90)">FB</text>
<text class="s12" transform="translate(1979,2346) rotate(-90)">Video out</text>
<text class="s12" transform="translate(2017,2346) rotate(-90)">Video in</text>
</g>
<g class="numbers">
<text class="s11" transform="translate(1695,2448) rotate(-90)">1</text><text class="s11" transform="translate(1712,2448) rotate(-90)">2</text><text class="s11" transform="translate(1730,2448) rotate(-90)">3</text><text class="s11" transform="translate(1747,2448) rotate(-90)">4</text><text class="s11" transform="translate(1764,2448) rotate(-90)">5</text><text class="s11" transform="translate(1782,2448) rotate(-90)">6</text><text class="s11" transform="translate(1799,2448) rotate(-90)">7</text><text class="s11" transform="translate(1816,2448) rotate(-90)">8</text><text class="s11" transform="translate(1834,2448) rotate(-90)">9</text><text class="s11" transform="translate(1851,2448) rotate(-90)">10</text><text class="s11" transform="translate(1869,2448) rotate(-90)">11</text><text class="s11" transform="translate(1886,2448) rotate(-90)">12</text><text class="s11" transform="translate(1903,2448) rotate(-90)">13</text><text class="s11" transform="translate(1921,2448) rotate(-90)">14</text><text class="s11" transform="translate(1938,2448) rotate(-90)">15</text><text class="s11" transform="translate(1955,2448) rotate(-90)">16</text><text class="s11" transform="translate(1973,2448) rotate(-90)">17</text><text class="s11" transform="translate(1990,2448) rotate(-90)">18</text><text class="s11" transform="translate(2007,2448) rotate(-90)">19</text><text class="s11" transform="translate(2025,2448) rotate(-90)">20</text><text class="s11" transform="translate(2042,2448) rotate(-90)">21</text>
</g>
<text class="b s24 m" transform="translate(1869,2490) rotate(180)">scart</text>
</g>
</svg>
